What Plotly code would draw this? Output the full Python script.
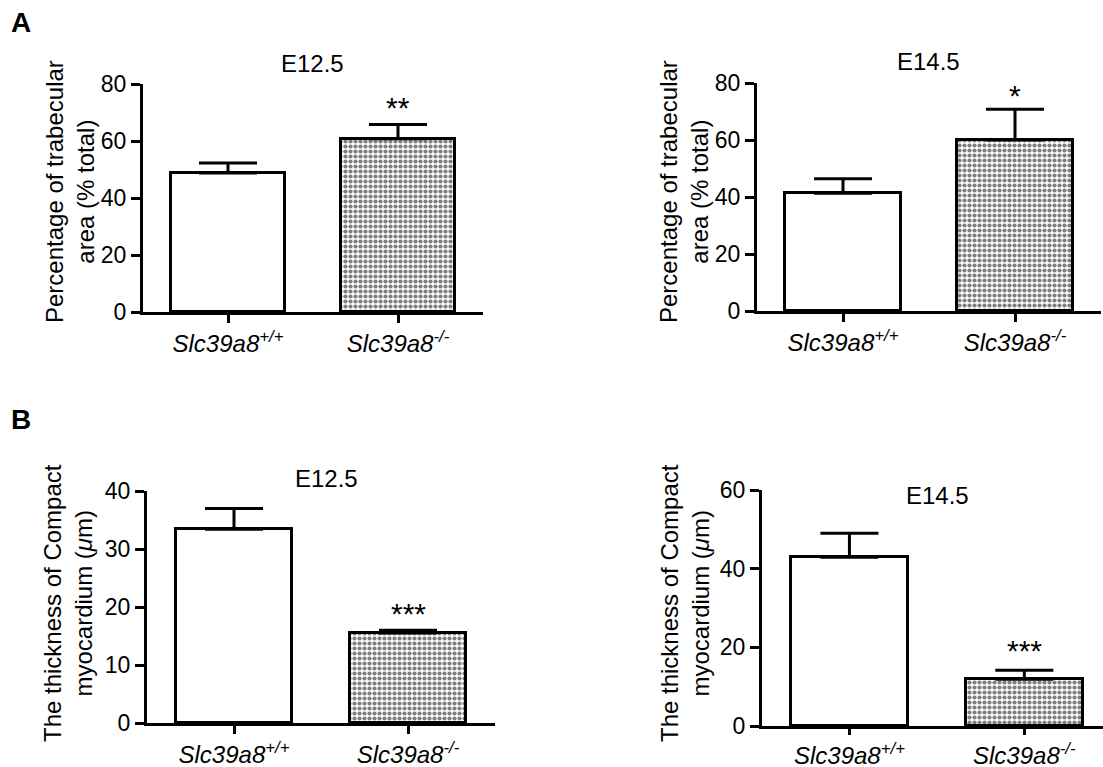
import plotly.graph_objects as go

W, H = 1103, 767
FONT = "Liberation Sans, Arial, Helvetica, sans-serif"

# ---------------- data ----------------
categories = ["Slc39a8+/+", "Slc39a8-/-"]
tick_labels = ["<i>Slc39a8<sup>+/+</sup></i>", "<i>Slc39a8<sup>-/-</sup></i>"]

a1_mean = [48.8, 60.8]
a1_err = [3.5, 5.0]
a1_sig = ["", "**"]
a1_sig_y = [0, 73.3]

a2_mean = [41.3, 60.0]
a2_err = [5.1, 10.8]
a2_sig = ["", "*"]
a2_sig_y = [0, 77.0]

b1_mean = [33.4, 15.5]
b1_err = [3.6, 0.5]
b1_sig = ["", "***"]
b1_sig_y = [0, 19.5]

b2_mean = [42.9, 11.9]
b2_err = [6.1, 2.3]
b2_sig = ["", "***"]
b2_sig_y = [0, 20.1]

panel_titles = ["E12.5", "E14.5", "E12.5", "E14.5"]
ytitle_a = "Percentage of trabecular<br>area (% total)"
ytitle_b = "The thickness of Compact<br>myocardium (<i>μ</i>m)"


def px(x):
    return x / W


def py(y):
    return 1 - y / H


fig = go.Figure()

panels = [
    (a1_mean, a1_err, a1_sig, a1_sig_y, "x", "y"),
    (a2_mean, a2_err, a2_sig, a2_sig_y, "x2", "y2"),
    (b1_mean, b1_err, b1_sig, b1_sig_y, "x3", "y3"),
    (b2_mean, b2_err, b2_sig, b2_sig_y, "x4", "y4"),
]

for means, errs, sig, sig_y, xa, ya in panels:
    for i, cat in enumerate(categories):
        patterned = i == 1
        fig.add_trace(go.Bar(
            x=[cat], y=[means[i]],
            xaxis=xa, yaxis=ya,
            width=0.67,
            marker=dict(
                color="white",
                line=dict(color="black", width=3),
                pattern=dict(shape="." if patterned else "",
                             fgcolor="black", bgcolor="white",
                             size=5, solidity=0.55,
                             fillmode="overlay"),
            ),
            error_y=dict(type="data", array=[errs[i]], arrayminus=[0],
                         symmetric=False, color="black",
                         thickness=3, width=29),
            showlegend=False,
            hoverinfo="skip",
        ))
    for i, cat in enumerate(categories):
        if sig[i]:
            fig.add_annotation(
                x=cat, y=sig_y[i], xref=xa, yref=ya,
                text=sig[i], showarrow=False, yanchor="middle", yshift=-4,
                font=dict(family=FONT, size=30, color="black"),
            )

axis_common = dict(
    showline=True, linewidth=3, linecolor="black",
    ticks="outside", tickwidth=3, ticklen=9, tickcolor="black",
    showgrid=False, zeroline=False, automargin=False,
    tickfont=dict(family=FONT, size=23, color="black"),
)

xdoms = [
    [px(143), px(483)],
    [px(757), px(1101)],
    [px(147), px(495)],
    [px(762), 1.0],
]
xranges = [[-0.5, 1.5], [-0.5, 1.5], [-0.5, 1.5], [-0.5, 1.45]]
xticklens = [8, 8, 8, 6]
ydoms = [
    [py(312), py(84)],
    [py(311), py(83)],
    [py(723), py(491)],
    [py(726), py(490)],
]
yranges = [[0, 80], [0, 80], [0, 40], [0, 60]]
ydticks = [20, 20, 10, 20]

layout = {}
for k in range(4):
    sx = "" if k == 0 else str(k + 1)
    layout["xaxis" + sx] = dict(
        axis_common, domain=xdoms[k], range=xranges[k], anchor="y" + sx,
        type="category", tickvals=categories, ticktext=tick_labels,
        ticklen=xticklens[k],
        tickfont=dict(family=FONT, size=24, color="black"),
    )
    layout["yaxis" + sx] = dict(
        axis_common, domain=ydoms[k], range=yranges[k], anchor="x" + sx,
        dtick=ydticks[k], tick0=0,
    )

fig.update_layout(
    width=W, height=H,
    margin=dict(l=0, r=0, t=0, b=0, pad=0, autoexpand=False),
    paper_bgcolor="white", plot_bgcolor="rgba(0,0,0,0)",
    font=dict(family=FONT, color="black"),
    bargap=0,
    **layout,
)

title_pos = [(312, 63), (928, 62), (326, 478), (937, 495)]
for t, (tx, ty) in zip(panel_titles, title_pos):
    fig.add_annotation(x=px(tx), y=py(ty), xref="paper", yref="paper",
                       text=t, showarrow=False, xanchor="center", yanchor="middle",
                       font=dict(family=FONT, size=24, color="black"))

ytitle_pos = [(70, 192, ytitle_a), (684, 192, ytitle_a),
              (68, 603, ytitle_b), (685, 603, ytitle_b)]
for tx, ty, t in ytitle_pos:
    fig.add_annotation(x=px(tx), y=py(ty), xref="paper", yref="paper",
                       text=t, showarrow=False, textangle=-90,
                       xanchor="center", yanchor="middle",
                       font=dict(family=FONT, size=24, color="black"))

for letter, (lx, ly) in zip(["A", "B"], [(21, 23), (21, 419)]):
    fig.add_annotation(x=px(lx), y=py(ly), xref="paper", yref="paper",
                       text="<b>" + letter + "</b>", showarrow=False,
                       xanchor="center", yanchor="middle",
                       font=dict(family=FONT, size=28, color="black"))

fig.write_html("out.html",
               config={"displayModeBar": False},
               post_script="document.body.style.margin='0px';")
